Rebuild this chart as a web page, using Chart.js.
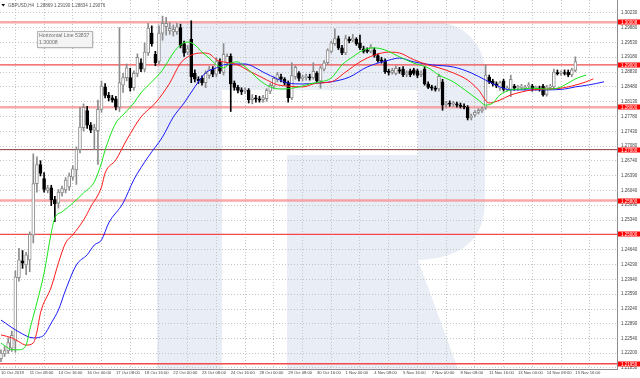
<!DOCTYPE html>
<html>
<head>
<meta charset="utf-8">
<script src="https://cdn.jsdelivr.net/npm/chart.js@4.4.0/dist/chart.umd.min.js"></script>
<style>
  html, body { margin: 0; padding: 0; background: #fff; }
  #wrap { width: 640px; height: 378px; position: relative; }
</style>
</head>
<body>
<div id="wrap"><canvas id="chart"></canvas></div>
<script>
// GBPUSD H4, one entry per bar from 10 Oct 2019 00:00
const opens = [
  1.2207,1.2218,1.2225,1.2232,1.2248,1.2398,1.2438,1.2428,1.2440,1.2498,
  1.2620,1.2665,1.2632,1.2604,1.2610,1.2582,1.2574,1.2598,1.2605,1.2612,
  1.2635,1.2652,1.2700,1.2752,1.2792,1.2758,1.2746,1.2745,1.2795,1.2848,
  1.2828,1.2822,1.2820,1.2800,1.2852,1.2870,1.2870,1.2846,1.2880,1.2905,
  1.2890,1.2928,1.2975,1.2925,1.2908,1.2975,1.2990,1.2980,1.2978,1.2978,
  1.2988,1.2950,1.2930,1.2960,1.2880,1.2866,1.2868,1.2858,1.2875,1.2890,
  1.2878,1.2908,1.2882,1.2905,1.2920,1.2857,1.2847,1.2841,1.2838,1.2840,
  1.2818,1.2822,1.2820,1.2818,1.2820,1.2838,1.2850,1.2865,1.2872,1.2866,
  1.2858,1.2822,1.2872,1.2880,1.2868,1.2870,1.2872,1.2870,1.2880,1.2862,
  1.2890,1.2905,1.2932,1.2950,1.2962,1.2940,1.2928,1.2960,1.2958,1.2960,
  1.2952,1.2938,1.2935,1.2932,1.2935,1.2922,1.2912,1.2910,1.2885,1.2882,
  1.2880,1.2888,1.2890,1.2878,1.2886,1.2888,1.2886,1.2877,1.2890,1.2855,
  1.2848,1.2845,1.2843,1.2860,1.2806,1.2810,1.2808,1.2808,1.2805,1.2803,
  1.2800,1.2776,1.2782,1.2788,1.2792,1.2800,1.2871,1.2862,1.2855,1.2845,
  1.2862,1.2843,1.2842,1.2850,1.2846,1.2847,1.2844,1.2850,1.2850,1.2845,
  1.2846,1.2850,1.2830,1.2847,1.2848,1.2882,1.2880,1.2882,1.2883,1.2876,
  1.28869
];
const highs = [
  1.2228,1.2236,1.2256,1.2272,1.2414,1.2467,1.2462,1.2458,1.2506,1.2690,
  1.2683,1.2674,1.2646,1.2616,1.2616,1.2590,1.2606,1.2614,1.2634,1.2645,
  1.2662,1.2706,1.2800,1.2808,1.2802,1.2764,1.2760,1.2817,1.2862,1.2856,
  1.2835,1.2828,1.2826,1.2988,1.2880,1.2902,1.2892,1.2886,1.2926,1.2914,
  1.2952,1.2998,1.2992,1.2932,1.2992,1.3015,1.3012,1.3000,1.2994,1.2998,
  1.2996,1.2956,1.2946,1.3004,1.2888,1.2872,1.2874,1.2886,1.2896,1.2896,
  1.2918,1.2914,1.2950,1.2926,1.2926,1.2862,1.2852,1.2846,1.2846,1.2844,
  1.2830,1.2828,1.2826,1.2828,1.2844,1.2856,1.2872,1.2882,1.2878,1.2870,
  1.2862,1.2905,1.2898,1.2884,1.2876,1.2878,1.2878,1.2905,1.2884,1.2897,
  1.2910,1.2938,1.2956,1.2985,1.2968,1.2946,1.2970,1.2966,1.2972,1.2964,
  1.2970,1.2944,1.2940,1.2948,1.2940,1.2926,1.2918,1.2914,1.2890,1.2892,
  1.2898,1.2894,1.2896,1.2886,1.2890,1.2892,1.2890,1.2886,1.2896,1.2860,
  1.2852,1.2850,1.2878,1.2866,1.2814,1.2815,1.2814,1.2812,1.2810,1.2808,
  1.2804,1.2784,1.2792,1.2797,1.2800,1.2900,1.2876,1.2866,1.2860,1.2862,
  1.2866,1.2850,1.2876,1.2854,1.2852,1.2854,1.2852,1.2858,1.2854,1.2850,
  1.2850,1.2854,1.2852,1.2854,1.2890,1.2888,1.2886,1.2888,1.2888,1.2892,
  1.29190
];
const lows = [
  1.2200,1.2212,1.2219,1.2224,1.2222,1.2390,1.2420,1.2405,1.2412,1.2480,
  1.2600,1.2638,1.2600,1.2598,1.2568,1.2530,1.2562,1.2590,1.2598,1.2604,
  1.2628,1.2618,1.2692,1.2744,1.2750,1.2740,1.2700,1.2665,1.2788,1.2822,
  1.2815,1.2812,1.2794,1.2790,1.2835,1.2862,1.2838,1.2840,1.2872,1.2884,
  1.2884,1.2922,1.2944,1.2898,1.2902,1.2958,1.2970,1.2972,1.2968,1.2972,
  1.2940,1.2920,1.2924,1.2858,1.2860,1.2856,1.2852,1.2846,1.2868,1.2872,
  1.2872,1.2880,1.2876,1.2898,1.2790,1.2840,1.2834,1.2830,1.2832,1.2810,
  1.2808,1.2812,1.2812,1.2812,1.2814,1.2832,1.2844,1.2860,1.2860,1.2852,
  1.2812,1.2818,1.2866,1.2862,1.2862,1.2864,1.2864,1.2866,1.2858,1.2845,
  1.2886,1.2900,1.2928,1.2946,1.2936,1.2924,1.2924,1.2952,1.2954,1.2946,
  1.2936,1.2928,1.2928,1.2928,1.2918,1.2906,1.2904,1.2880,1.2876,1.2878,
  1.2876,1.2880,1.2872,1.2872,1.2872,1.2876,1.2870,1.2872,1.2852,1.2844,
  1.2840,1.2838,1.2838,1.2793,1.2800,1.2802,1.2802,1.2800,1.2798,1.2796,
  1.2770,1.2770,1.2778,1.2784,1.2788,1.2795,1.2856,1.2850,1.2846,1.2840,
  1.2838,1.2838,1.2825,1.2840,1.2840,1.2842,1.2840,1.2846,1.2838,1.2840,
  1.2838,1.2826,1.2826,1.2842,1.2844,1.2876,1.2875,1.2876,1.2872,1.2872,
  1.28834
];
const closes = [
  1.2220,1.2226,1.2245,1.2262,1.2400,1.2440,1.2432,1.2452,1.2500,1.2620,
  1.2665,1.2644,1.2606,1.2610,1.2582,1.2572,1.2600,1.2608,1.2628,1.2638,
  1.2655,1.2700,1.2753,1.2800,1.2758,1.2746,1.2752,1.2795,1.2850,1.2828,
  1.2822,1.2817,1.2800,1.2858,1.2870,1.2893,1.2846,1.2880,1.2918,1.2890,
  1.2930,1.2987,1.2950,1.2905,1.2975,1.2998,1.2998,1.2986,1.2984,1.2990,
  1.2945,1.2928,1.2938,1.2872,1.2866,1.2862,1.2858,1.2880,1.2890,1.2878,
  1.2908,1.2885,1.2925,1.2920,1.2855,1.2847,1.2840,1.2837,1.2841,1.2818,
  1.2822,1.2819,1.2817,1.2823,1.2840,1.2852,1.2868,1.2877,1.2866,1.2857,
  1.2822,1.2875,1.2894,1.2868,1.2871,1.2873,1.2869,1.2885,1.2862,1.2893,
  1.2905,1.2935,1.2952,1.2962,1.2940,1.2928,1.2962,1.2957,1.2963,1.2950,
  1.2940,1.2932,1.2932,1.2942,1.2922,1.2910,1.2908,1.2884,1.2882,1.2887,
  1.2892,1.2885,1.2876,1.2881,1.2876,1.2880,1.2875,1.2881,1.2855,1.2847,
  1.2845,1.2842,1.2873,1.2805,1.2810,1.2807,1.2811,1.2805,1.2802,1.2800,
  1.2775,1.2779,1.2788,1.2793,1.2796,1.2876,1.2860,1.2855,1.2851,1.2858,
  1.2842,1.2846,1.2866,1.2845,1.2849,1.2850,1.2848,1.2853,1.2843,1.2847,
  1.2843,1.2829,1.2848,1.2850,1.2883,1.2879,1.2883,1.2880,1.2876,1.2888,
  1.29076
];

// alligator lines, [bar index, price] (shifted 3 / 5 / 8 bars)
const lips = [[0,1.2244],[2,1.2232],[3,1.2228],[5,1.2228],[7,1.2239],[8,1.2275],[10,1.2339],[12,1.2409],[14,1.2504],[15,1.2539],[17,1.2553],[20,1.2574],[23,1.2598],[26,1.2624],[28,1.2669],[29,1.2699],[32,1.2763],[34,1.2782],[37,1.2810],[39,1.2834],[42,1.2860],[45,1.2888],[48,1.2928],[50,1.2947],[52,1.2954],[54,1.2947],[56,1.2930],[58,1.2916],[60,1.2900],[62,1.2893],[64,1.2904],[66,1.2907],[67,1.2902],[69,1.2888],[72,1.2864],[75,1.2848],[78,1.2843],[80,1.2844],[83,1.2848],[86,1.2855],[89,1.2860],[92,1.2869],[95,1.2900],[98,1.2919],[101,1.2935],[104,1.2940],[107,1.2935],[111,1.2919],[115,1.2904],[119,1.2893],[122,1.2876],[126,1.2860],[130,1.2836],[133,1.2817],[135,1.2805],[137,1.2810],[139,1.2829],[142,1.2841],[145,1.2843],[148,1.2845],[152,1.2843],[155,1.2845],[158,1.2857],[160,1.2867],[163,1.2876]];
const teeth = [[0,1.2263],[3,1.2256],[5,1.2247],[7,1.2239],[9,1.2244],[10,1.2270],[11,1.2315],[14,1.2376],[16,1.2433],[18,1.2480],[20,1.2499],[23,1.2534],[25,1.2565],[28,1.2612],[29,1.2645],[32,1.2676],[35,1.2723],[39,1.2777],[43,1.2810],[47,1.2857],[50,1.2904],[53,1.2923],[56,1.2928],[58,1.2926],[60,1.2912],[62,1.2907],[64,1.2904],[66,1.2900],[69,1.2886],[73,1.2869],[77,1.2853],[80,1.2850],[84,1.2848],[88,1.2857],[92,1.2860],[96,1.2883],[100,1.2907],[104,1.2923],[108,1.2930],[111,1.2928],[115,1.2912],[119,1.2900],[122,1.2893],[126,1.2881],[130,1.2864],[133,1.2841],[136,1.2810],[139,1.2817],[142,1.2829],[145,1.2836],[148,1.2841],[152,1.2843],[156,1.2845],[159,1.2850],[163,1.2860],[165,1.2867]];
const jaw = [[0,1.2298],[5,1.2270],[9,1.2256],[11,1.2258],[12,1.2263],[14,1.2291],[16,1.2322],[18,1.2369],[21,1.2428],[24,1.2452],[26,1.2475],[28,1.2487],[30,1.2527],[34,1.2574],[37,1.2629],[41,1.2683],[45,1.2730],[48,1.2777],[51,1.2810],[54,1.2848],[57,1.2881],[60,1.2893],[62,1.2900],[66,1.2902],[68,1.2902],[70,1.2897],[73,1.2883],[77,1.2867],[80,1.2857],[84,1.2855],[88,1.2857],[92,1.2860],[97,1.2871],[102,1.2895],[108,1.2911],[111,1.2916],[115,1.2907],[120,1.2900],[126,1.2895],[131,1.2881],[135,1.2864],[139,1.2848],[142,1.2841],[146,1.2841],[152,1.2841],[157,1.2843],[160,1.2848],[164,1.2853],[168,1.2860]];

// horizontal levels drawn on the chart
const levels = [1.30008, 1.29000, 1.28000, 1.27000, 1.25800, 1.25000, 1.21950];
const levelKinds = ['soft', 'hard', 'soft', 'dark', 'soft', 'hard', 'hard'];

const xTickIdx = [0, 8, 16, 24, 32, 40, 48, 56, 64, 72, 80, 88, 96, 104, 112, 120, 128, 136, 144, 152, 160, 168];
const xTickLabels = ['10 Oct 2019', '11 Oct 08:00', '14 Oct 16:00', '16 Oct 00:00', '17 Oct 08:00', '18 Oct 16:00',
  '22 Oct 00:00', '23 Oct 08:00', '24 Oct 16:00', '28 Oct 00:00', '29 Oct 08:00', '30 Oct 16:00', '1 Nov 00:00',
  '4 Nov 08:00', '5 Nov 16:00', '7 Nov 00:00', '8 Nov 08:00', '11 Nov 16:00', '13 Nov 00:00', '14 Nov 08:00',
  '15 Nov 16:00', ''];
const yTickLabels = ['1.30230', '1.29880', '1.29530', '1.29180', '1.28830', '1.28480', '1.28130', '1.27780',
  '1.27430', '1.27080', '1.26740', '1.26390', '1.26040', '1.25690', '1.25340', '1.24990', '1.24640', '1.24290',
  '1.23940', '1.23590', '1.23240', '1.22890', '1.22540', '1.22200', '1.21850'];

const header = 'GBPUSD,H4  1.28869 1.29190 1.28834 1.29076';
const noteTitle = 'Horizontal Line 53837';
const noteValue = '1.30008';

const FONT = '"Liberation Sans", Arial, sans-serif';
Chart.defaults.font.family = FONT;
Chart.defaults.font.size = 4.5;

const upCol = '#8c8c8c';
const bars = opens.map((o, i) => i);
const isUp = bars.map(i => closes[i] >= opens[i]);

const levelStyle = {
  soft: { color: 'rgba(246,140,140,0.75)', width: 2.5 },
  hard: { color: '#f24a4a', width: 1.3 },
  dark: { color: '#8a3a3a', width: 1 }
};

const lineSet = (pts, color, order) => ({
  type: 'line',
  data: pts.map(p => ({ x: p[0], y: p[1] })),
  borderColor: color,
  borderWidth: 1,
  pointRadius: 0,
  cubicInterpolationMode: 'monotone',
  order: order
});

const levelSets = levels.map((v, k) => ({
  type: 'line',
  data: [{ x: -5, y: v }, { x: 180, y: v }],
  borderColor: levelStyle[levelKinds[k]].color,
  borderWidth: levelStyle[levelKinds[k]].width,
  pointRadius: 0,
  order: 5
}));

const decor = {
  id: 'decor',
  beforeDraw(chart) {
    const ctx = chart.ctx, a = chart.chartArea;
    ctx.save();
    ctx.fillStyle = '#fff';
    ctx.fillRect(0, 0, chart.width, chart.height);
    // broker watermark
    ctx.fillStyle = '#e9edf5';
    ctx.beginPath();
    ctx.moveTo(157, 22);
    ctx.lineTo(435, 22);
    ctx.arcTo(485, 22, 485, 72, 50);
    ctx.lineTo(485, 200);
    ctx.bezierCurveTo(485, 240, 462, 258, 418, 260);
    ctx.lineTo(458, a.bottom);
    ctx.lineTo(157, a.bottom);
    ctx.closePath();
    ctx.fill();
    ctx.fillStyle = '#fff';
    ctx.fillRect(222, 90, 196, 65);
    ctx.fillRect(222, 155, 65, a.bottom - 155);
    ctx.restore();
  },
  afterDraw(chart) {
    const ctx = chart.ctx, a = chart.chartArea, sy = chart.scales.y;
    ctx.save();
    // level tags on the price axis
    ctx.font = '4.5px ' + FONT;
    ctx.textBaseline = 'middle';
    levels.forEach(v => {
      const y = Math.round(sy.getPixelForValue(v));
      ctx.fillStyle = '#ff0000';
      ctx.fillRect(a.right + 1, y - 2.5, chart.width - a.right - 1, 5);
      ctx.fillStyle = '#fff';
      ctx.fillText(v.toFixed(5), a.right + 4, y + 0.3);
    });
    // header
    ctx.fillStyle = '#000';
    ctx.beginPath();
    ctx.moveTo(1.5, 4); ctx.lineTo(5, 4); ctx.lineTo(3.2, 6.5); ctx.closePath();
    ctx.fill();
    ctx.fillStyle = '#555';
    ctx.fillText(header, 8, 5.5);
    // note box
    ctx.shadowColor = 'rgba(0,0,0,0.25)';
    ctx.shadowBlur = 2;
    ctx.shadowOffsetX = 1;
    ctx.shadowOffsetY = 1;
    ctx.fillStyle = '#f4f4f4';
    ctx.fillRect(37, 31, 55, 16);
    ctx.shadowColor = 'transparent';
    ctx.strokeStyle = '#b4b4b4';
    ctx.lineWidth = 1;
    ctx.strokeRect(37.5, 31.5, 55, 16);
    ctx.fillStyle = '#707070';
    ctx.font = '5.2px ' + FONT;
    ctx.fillText(noteTitle, 39, 36);
    ctx.fillText(noteValue, 39, 43);
    ctx.restore();
  }
};

new Chart(document.getElementById('chart'), {
  type: 'bar',
  data: {
    datasets: [
      lineSet(lips, '#19e619', 0),
      lineSet(teeth, '#ff1a1a', 0),
      lineSet(jaw, '#1a1aff', 0),
      {
        data: bars.map(i => ({ x: i, y: [opens[i], closes[i]] })),
        backgroundColor: bars.map(i => isUp[i] ? '#ffffff' : '#000000'),
        borderColor: bars.map(i => isUp[i] ? upCol : '#000000'),
        borderWidth: 1,
        borderSkipped: false,
        barThickness: 3,
        grouped: false,
        order: 1
      },
      {
        data: bars.map(i => ({ x: i, y: [lows[i], highs[i]] })),
        backgroundColor: bars.map(i => isUp[i] ? upCol : '#000000'),
        borderWidth: 0,
        barThickness: 1,
        grouped: false,
        order: 2
      },
      ...levelSets
    ]
  },
  options: {
    responsive: true,
    maintainAspectRatio: false,
    animation: false,
    events: [],
    layout: { padding: 0 },
    plugins: {
      legend: { display: false },
      tooltip: { enabled: false },
      title: { display: false }
    },
    scales: {
      x: {
        type: 'linear',
        min: -0.28,
        max: 171.6,
        offset: false,
        afterBuildTicks: s => { s.ticks = xTickIdx.map(v => ({ value: v })); },
        afterFit: s => { s.height = 9; s.paddingLeft = 0; s.paddingRight = 0; },
        grid: { color: '#c4c4c4', drawTicks: false },
        border: { display: true, color: '#8c8c8c', dash: [1, 2] },
        ticks: {
          autoSkip: false,
          maxRotation: 0,
          align: 'start',
          padding: 1.5,
          color: '#444',
          font: { size: 4.2 },
          callback: (v, i) => xTickLabels[i]
        }
      },
      y: {
        position: 'right',
        min: 1.21826,
        max: 1.30530,
        afterBuildTicks: s => { s.ticks = yTickLabels.map(t => ({ value: parseFloat(t) })); },
        afterFit: s => { s.width = 23; s.paddingTop = 0; s.paddingBottom = 0; },
        grid: { color: '#c4c4c4', drawTicks: false },
        border: { display: true, color: '#8c8c8c', dash: [1, 2] },
        ticks: {
          autoSkip: false,
          padding: 4,
          color: '#444',
          callback: (v, i) => yTickLabels[i]
        }
      }
    }
  },
  plugins: [decor]
});
</script>
</body>
</html>
